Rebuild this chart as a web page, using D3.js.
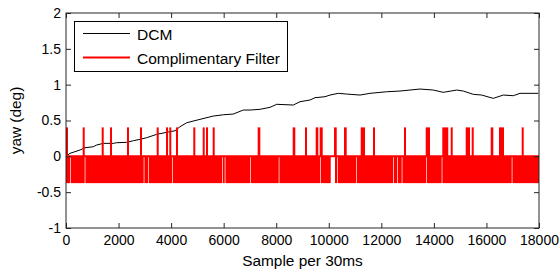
<!DOCTYPE html>
<html>
<head>
<meta charset="utf-8">
<script src="https://cdn.jsdelivr.net/npm/d3@7.9.0/dist/d3.min.js"></script>
<style>
  body { margin: 0; background: #fff; }
  svg text { font-family: "Liberation Sans", Arial, sans-serif; fill: #000; }
</style>
</head>
<body>
<svg id="chart" width="560" height="274"></svg>
<script>
// DCM yaw estimate (sample index, deg)
const dcmX = [0, 152, 533, 723, 1039, 1168, 1419, 1800, 1929, 2310, 2561, 2816, 3071, 3451, 3832, 4148,
  4338, 4593, 5099, 5605, 5986, 6366, 6747, 7002, 7382, 7763, 8018, 8650, 8905, 9285, 9476, 9856,
  10047, 10363, 10682, 11188, 11569, 12204, 12710, 13091, 13471, 13978, 14358, 14868, 15119, 15500,
  15819, 16260, 16641, 17022, 17277, 17974];
const dcmY = [0, 0.042, 0.088, 0.12, 0.134, 0.158, 0.181, 0.181, 0.19, 0.195, 0.218, 0.237, 0.26, 0.307,
  0.335, 0.357, 0.413, 0.469, 0.516, 0.562, 0.58, 0.59, 0.646, 0.646, 0.656, 0.684, 0.726, 0.716,
  0.762, 0.786, 0.818, 0.832, 0.855, 0.879, 0.869, 0.855, 0.879, 0.901, 0.911, 0.925, 0.939, 0.925,
  0.893, 0.925, 0.911, 0.865, 0.855, 0.809, 0.855, 0.846, 0.879, 0.879];

// complimentary filter: jumps between 0, a high level and a low level
const cfHigh = 0.39;
const cfLow = -0.36;
// sample ranges where the filter sits at the high level
const cfSpikes = [[38, 60], [674, 700], [1397, 1420], [1712, 1735], [2359, 2380], [2854, 2875],
  [3490, 3510], [3844, 3865], [3969, 3990], [4224, 4245], [4882, 4905], [5240, 5260], [5366, 5390],
  [5621, 5645], [7332, 7394], [8665, 8726], [9133, 9155], [9540, 9601], [9692, 9769], [10237, 10302],
  [10617, 10682], [11253, 11379], [11721, 11745], [12901, 12925], [13727, 13852], [14358, 14548],
  [14678, 14700], [15249, 15374], [15477, 15500], [16200, 16261], [16516, 16668], [17380, 17405]];
// sample ranges where the filter never drops to the low level
const cfGaps = [[164, 190], [712, 738], [2957, 2983], [3120, 3146], [4034, 4060], [5937, 5963],
  [6040, 6066], [7014, 7040], [8095, 8121], [9666, 9692], [10074, 10237], [10324, 10350],
  [11036, 11062], [12456, 12482], [12608, 12634], [12776, 12802], [13700, 13726], [14297, 14323],
  [16962, 16988]];

const xTicks = [0, 2000, 4000, 6000, 8000, 10000, 12000, 14000, 16000, 18000];
const yTicks = [-1, -0.5, 0, 0.5, 1, 1.5, 2];
const legendLabels = ['DCM', 'Complimentary Filter'];

const mLeft = 66, mRight = 539, mTop = 13, mBottom = 228;
const x = d3.scaleLinear().domain([0, 18000]).range([mLeft, mRight]);
const y = d3.scaleLinear().domain([-1, 2]).range([mBottom, mTop]);

const svg = d3.select('#chart');

svg.append('clipPath').attr('id', 'plot-clip')
  .append('rect')
  .attr('x', mLeft).attr('y', mTop)
  .attr('width', mRight - mLeft).attr('height', mBottom - mTop);

const plot = svg.append('g').attr('clip-path', 'url(#plot-clip)');

// DCM line
const dcm = dcmX.map((d, i) => [d, dcmY[i]]);
plot.append('path')
  .datum(dcm)
  .attr('fill', 'none')
  .attr('stroke', '#000')
  .attr('stroke-width', 1)
  .attr('d', d3.line().x((d) => x(d[0])).y((d) => y(d[1])));

// filter: low band between the gaps
const bandStarts = [0, ...cfGaps.map((g) => g[1])];
const bandEnds = [...cfGaps.map((g) => g[0]), 18000];
const red = plot.append('g').attr('fill', '#ff0000');

red.selectAll('rect.band')
  .data(bandStarts.map((s, i) => [s, bandEnds[i]]))
  .join('rect')
  .attr('class', 'band')
  .attr('x', (d) => x(d[0]))
  .attr('width', (d) => x(d[1]) - x(d[0]))
  .attr('y', y(0))
  .attr('height', y(cfLow) - y(0) + 1);

red.selectAll('rect.spike')
  .data(cfSpikes)
  .join('rect')
  .attr('class', 'spike')
  .attr('x', (d) => x(d[0]) - 1)
  .attr('width', (d) => Math.max(2, x(d[1]) - x(d[0]) + 1))
  .attr('y', y(cfHigh) - 1)
  .attr('height', y(0) - y(cfHigh) + 1);

plot.append('line')
  .attr('x1', x(0)).attr('x2', x(18000))
  .attr('y1', y(0)).attr('y2', y(0))
  .attr('stroke', '#ff0000')
  .attr('stroke-width', 2);

// axes, matlab style: ticks inside on all four sides
function styleAxis(g) {
  g.select('.domain').remove();
  g.selectAll('.tick line').attr('stroke', '#262626');
  g.selectAll('.tick text').attr('font-size', 14).attr('fill', '#000')
    .attr('font-family', '"Liberation Sans", Arial, sans-serif');
}

svg.append('g')
  .attr('transform', `translate(0,${mBottom})`)
  .call(d3.axisBottom(x).tickValues(xTicks).tickFormat(d3.format('d'))
    .tickSizeInner(-5).tickSizeOuter(0).tickPadding(7))
  .call(styleAxis);

svg.append('g')
  .attr('transform', `translate(0,${mTop})`)
  .call(d3.axisTop(x).tickValues(xTicks).tickFormat('').tickSizeInner(-5).tickSizeOuter(0))
  .call(styleAxis);

svg.append('g')
  .attr('transform', `translate(${mLeft},0)`)
  .call(d3.axisLeft(y).tickValues(yTicks).tickFormat((d) => String(d))
    .tickSizeInner(-5).tickSizeOuter(0).tickPadding(5))
  .call(styleAxis);

svg.append('g')
  .attr('transform', `translate(${mRight},0)`)
  .call(d3.axisRight(y).tickValues(yTicks).tickFormat('').tickSizeInner(-5).tickSizeOuter(0))
  .call(styleAxis);

svg.append('rect')
  .attr('x', mLeft).attr('y', mTop)
  .attr('width', mRight - mLeft).attr('height', mBottom - mTop)
  .attr('fill', 'none')
  .attr('stroke', '#262626')
  .attr('stroke-width', 1);

// axis labels
svg.append('text')
  .attr('x', (mLeft + mRight) / 2)
  .attr('y', 266)
  .attr('text-anchor', 'middle')
  .attr('font-size', 15.4)
  .text('Sample per 30ms');

svg.append('text')
  .attr('transform', `translate(21,${(mTop + mBottom) / 2}) rotate(-90)`)
  .attr('text-anchor', 'middle')
  .attr('font-size', 15.4)
  .text('yaw (deg)');

// legend
const legend = svg.append('g');
legend.append('rect')
  .attr('x', 74.5).attr('y', 21.5)
  .attr('width', 213).attr('height', 50)
  .attr('fill', '#fff')
  .attr('stroke', '#000');

const legendColors = ['#000', '#ff0000'];
const legendWidths = [1, 2];
legendLabels.forEach((label, i) => {
  const ly = 33.5 + i * 24;
  legend.append('line')
    .attr('x1', 83).attr('x2', 130)
    .attr('y1', ly).attr('y2', ly)
    .attr('stroke', legendColors[i])
    .attr('stroke-width', legendWidths[i]);
  legend.append('text')
    .attr('x', 137)
    .attr('y', ly + 6)
    .attr('font-size', 15.5)
    .text(label);
});
</script>
</body>
</html>
